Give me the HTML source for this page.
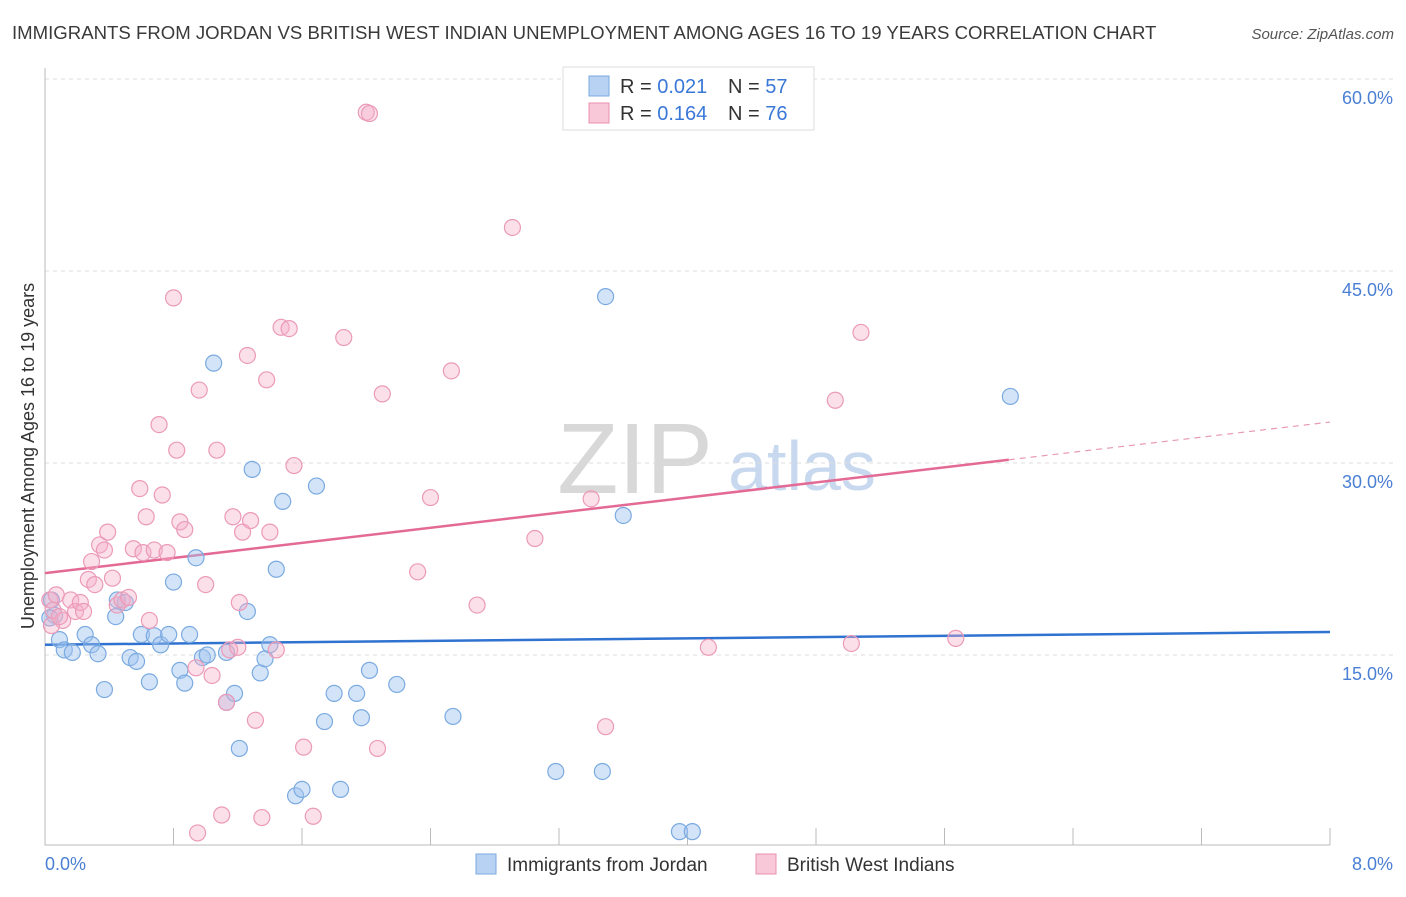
<!DOCTYPE html>
<html><head><meta charset="utf-8"><style>
body{margin:0;background:#fff;font-family:"Liberation Sans",sans-serif;}
svg text{font-family:"Liberation Sans",sans-serif;}
</style></head><body>
<svg id="chart" width="1406" height="892" viewBox="0 0 1406 892">
<text x="12" y="39" font-size="18.6" fill="#3a3a3a">IMMIGRANTS FROM JORDAN VS BRITISH WEST INDIAN UNEMPLOYMENT AMONG AGES 16 TO 19 YEARS CORRELATION CHART</text>
<text x="1394" y="39" font-size="15" fill="#555" font-style="italic" text-anchor="end">Source: ZipAtlas.com</text>
<g>
<text x="635" y="493" font-size="100" fill="#d8d8d8" font-family="Liberation Serif" text-anchor="middle">ZIP</text>
<text x="802" y="490" font-size="70" fill="#c8d8ee" text-anchor="middle">atlas</text>
</g>
<g id="grid"></g>
<g id="axes"></g>
<g id="trends"></g>
<g id="points"></g>
<text transform="translate(34,456) rotate(-90)" font-size="18" fill="#333" text-anchor="middle">Unemployment Among Ages 16 to 19 years</text>
<text x="45" y="870" font-size="18" fill="#4a7fd4">0.0%</text>
<text x="1393" y="870" font-size="18" fill="#4a7fd4" text-anchor="end">8.0%</text>
<g>
<rect x="563" y="67" width="251" height="63" fill="#fff" stroke="#ddd"/>
<rect x="589" y="76" width="20" height="20" fill="#b8d2f3" stroke="#7aaae0"/>
<rect x="589" y="103" width="20" height="20" fill="#f8c8d8" stroke="#e890b0"/>
<text x="620" y="93" font-size="20" fill="#333">R = <tspan fill="#3a78d8">0.021</tspan></text>
<text x="728" y="93" font-size="20" fill="#333">N = <tspan fill="#3a78d8">57</tspan></text>
<text x="620" y="120" font-size="20" fill="#333">R = <tspan fill="#3a78d8">0.164</tspan></text>
<text x="728" y="120" font-size="20" fill="#333">N = <tspan fill="#3a78d8">76</tspan></text>
</g>
<g>
<rect x="476" y="854" width="20" height="20" fill="#b8d2f3" stroke="#7aaae0"/>
<text x="507" y="871" font-size="19" fill="#333">Immigrants from Jordan</text>
<rect x="756" y="854" width="20" height="20" fill="#f8c8d8" stroke="#e890b0"/>
<text x="787" y="871" font-size="19" fill="#333">British West Indians</text>
</g>
</svg>
<script>
const yTicks=[15,30,45,60];
const yTickLabels=["15.0%","30.0%","45.0%","60.0%"];
const xTicks=[0,0.8,1.6,2.4,3.2,4.0,4.8,5.6,6.4,7.2,8.0];
const blueX=[0.04,0.06,0.09,0.12,0.17,0.25,0.29,0.33,0.37,0.44,0.45,0.50,0.53,0.57,0.60,0.65,0.68,0.72,0.77,0.80,0.84,0.87,0.90,0.94,0.98,1.01,1.05,1.13,1.13,1.18,1.21,1.26,1.29,1.34,1.37,1.40,1.44,1.48,1.56,1.60,1.69,1.74,1.80,1.84,1.94,1.97,2.02,2.19,2.54,3.18,3.47,3.49,3.60,3.95,4.03,6.01,0.03];
const blueY=[19.3,18.1,16.2,15.4,15.2,16.6,15.8,15.1,12.3,18.0,19.3,19.1,14.8,14.5,16.6,12.9,16.5,15.8,16.6,20.7,13.8,12.8,16.6,22.6,14.8,15.0,37.8,15.2,11.3,12.0,7.7,18.4,29.5,13.6,14.7,15.8,21.7,27.0,4.0,4.5,28.2,9.8,12.0,4.5,12.0,10.1,13.8,12.7,10.2,5.9,5.9,43.0,25.9,1.2,1.2,35.2,17.9];
const pinkX=[0.03,0.05,0.07,0.11,0.16,0.19,0.22,0.24,0.27,0.29,0.31,0.34,0.37,0.39,0.42,0.45,0.48,0.52,0.55,0.59,0.61,0.63,0.65,0.68,0.71,0.73,0.76,0.80,0.82,0.84,0.87,0.94,0.96,1.00,1.04,1.07,1.10,1.13,1.15,1.17,1.20,1.21,1.23,1.26,1.28,1.31,1.35,1.38,1.40,1.44,1.47,1.52,1.55,1.61,1.67,1.86,2.00,2.02,2.07,2.10,2.32,2.40,2.53,2.69,2.91,3.05,3.40,3.49,4.13,4.92,5.02,5.08,5.67,0.95,0.04,0.09];
const pinkY=[19.3,18.5,19.7,17.7,19.3,18.4,19.1,18.4,20.9,22.3,20.5,23.6,23.2,24.6,21.0,18.9,19.3,19.5,23.3,28.0,23.0,25.8,17.7,23.2,33.0,27.5,23.0,42.9,31.0,25.4,24.8,14.0,35.7,20.5,13.4,31.0,2.5,11.3,15.4,25.8,15.6,19.1,24.6,38.4,25.5,9.9,2.3,36.5,24.6,15.4,40.6,40.5,29.8,7.8,2.4,39.8,57.4,57.3,7.7,35.4,21.5,27.3,37.2,18.9,48.4,24.1,27.2,9.4,15.6,34.9,15.9,40.2,16.3,1.1,17.3,18.0];
const blueTrend=[15.8,16.8];
const pinkTrend=[21.4,33.2];
const pinkSolidEnd=6.0;

const NS="http://www.w3.org/2000/svg";
const X=v=>45+v/8*1285;
const Y=v=>847-v/15*192;
function mk(tag,attrs,parent){const e=document.createElementNS(NS,tag);for(const k in attrs)e.setAttribute(k,attrs[k]);parent.appendChild(e);return e;}
const grid=document.getElementById('grid'),axes=document.getElementById('axes'),trends=document.getElementById('trends'),pts=document.getElementById('points');
yTicks.forEach((t,i)=>{
  const l=mk('line',{x1:45,x2:1393,y1:Y(t),y2:Y(t),stroke:'#dcdcdc','stroke-dasharray':'4,4'},grid);
  
  
  const tx=mk('text',{x:1393,y:Y(t)+25,'font-size':18,fill:'#4a7fd4','text-anchor':'end'},grid);
  tx.textContent=yTickLabels[i];
  
  
});
const ax=mk('path',{d:'M45,68 V845 H1330',stroke:'#bbb',fill:'none'},axes);


xTicks.forEach(t=>{
  const l=mk('line',{x1:X(t),x2:X(t),y1:828,y2:845,stroke:'#bbb'},axes);
  
  
});
const bt=mk('line',{x1:X(0),y1:Y(blueTrend[0]),x2:X(8),y2:Y(blueTrend[1]),stroke:'#2f72d0','stroke-width':2.5},trends);


const pAt=v=>pinkTrend[0]+(pinkTrend[1]-pinkTrend[0])*v/8;
const pt=mk('line',{x1:X(0),y1:Y(pinkTrend[0]),x2:X(pinkSolidEnd),y2:Y(pAt(pinkSolidEnd)),stroke:'#e46a96','stroke-width':2.5},trends);


const pd=mk('line',{x1:X(pinkSolidEnd),y1:Y(pAt(pinkSolidEnd)),x2:X(8),y2:Y(pinkTrend[1]),stroke:'#e899b5','stroke-width':1.2,'stroke-dasharray':'6,5'},trends);


blueX.forEach((v,i)=>{
  const c=mk('circle',{cx:X(v),cy:Y(blueY[i]),r:8,fill:'rgba(160,195,240,0.45)',stroke:'#7aaae0','stroke-width':1.2},pts);
  
  
});
pinkX.forEach((v,i)=>{
  const c=mk('circle',{cx:X(v),cy:Y(pinkY[i]),r:8,fill:'rgba(245,175,200,0.4)',stroke:'#eb9ab8','stroke-width':1.2},pts);
  
  
});
</script>
</body></html>
